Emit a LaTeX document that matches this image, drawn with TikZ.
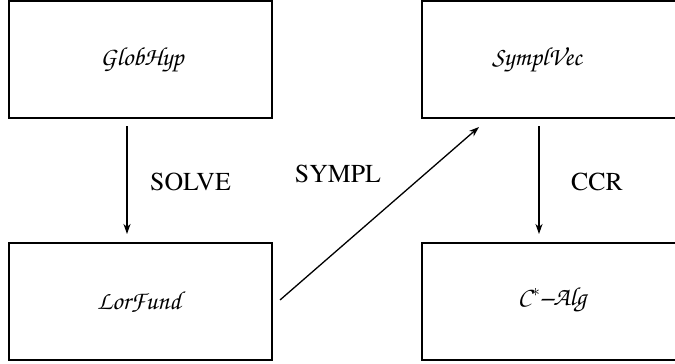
\documentclass[tikz,border=0pt]{standalone}
\usepackage[T1]{fontenc}
\usetikzlibrary{arrows.meta}
\tikzset{
  boxst/.style={draw, line width=2.7pt, rectangle, inner sep=0pt},
  callig/.style={font=\fontfamily{pzc}\fontseries{mb}\fontshape{it}\fontsize{26}{30}\selectfont, inner sep=0pt},
  lbl/.style={font=\fontfamily{ptm}\fontseries{m}\fontshape{n}\fontsize{25.8}{30}\selectfont, inner sep=0pt},
  arr/.style={line width=1.3pt, -{Stealth[length=10pt,width=7pt,inset=3pt]}}
}
\begin{document}
\begin{tikzpicture}[x=1pt,y=-1pt]
\useasboundingbox (0,0) rectangle (675,364);
\node[boxst, minimum width=263pt, minimum height=117pt] (gb) at (140.5,59.5) {};
\node[boxst, minimum width=263pt, minimum height=117pt] (lb) at (140.5,301.5) {};
\node[boxst, minimum width=263pt, minimum height=117pt] (sb) at (553.5,59.5) {};
\node[boxst, minimum width=263pt, minimum height=117pt] (cb) at (553.5,301.5) {};
\node[callig] (gt) at (142,60) {GlobHyp};
\node[callig] (lt) at (139,302) {LorFund};
\node[callig] (st) at (537,60) {SymplVec};
\node[callig] (ct) at (552,300) {C$^{*}$--Alg};
\coordinate (a1) at (127,126);
\coordinate (a2) at (127,234);
\coordinate (b1) at (539,126);
\coordinate (b2) at (539,234);
\coordinate (c1) at (280,300);
\coordinate (c2) at (479,127);
\draw[arr] (a1) -- (a2);
\draw[arr] (b1) -- (b2);
\draw[arr] (c1) -- (c2);
\node[lbl] (solve) at (190.5,181.5) {SOLVE};
\node[lbl] (sympl) at (338,174) {SYMPL};
\node[lbl] (ccr) at (597,181.5) {CCR};
\end{tikzpicture}
\end{document}
